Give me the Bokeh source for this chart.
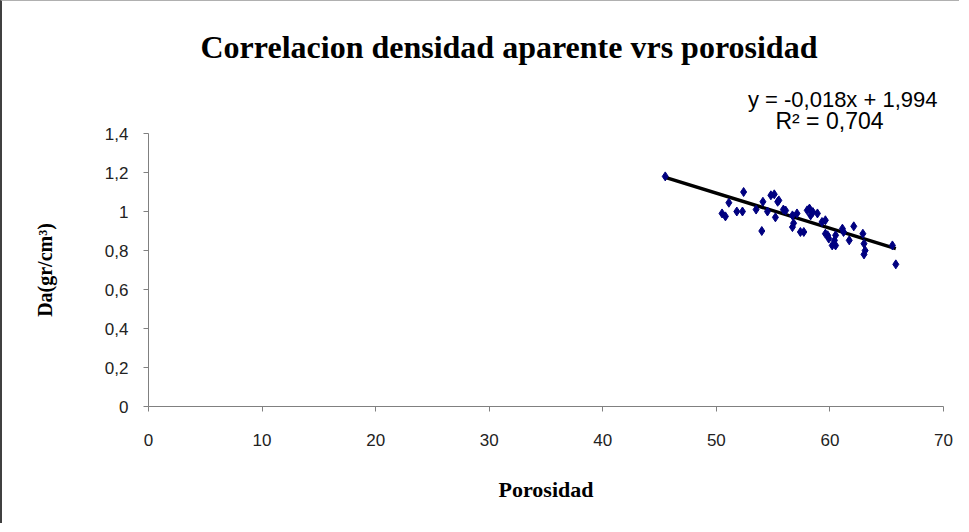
from bokeh.plotting import figure
from bokeh.models import Title, FixedTicker
from bokeh.embed import file_html
from bokeh.resources import INLINE

# ---- data ----
porosidad = [45.5, 52.4, 51.1, 50.5, 50.8, 51.8, 52.3, 54.0, 53.5, 54.1, 54.8, 55.1,
             55.4, 54.5, 55.2, 55.9, 56.1, 56.7, 57.1, 56.8, 56.7, 57.4, 57.7, 58.0,
             58.2, 58.3, 58.5, 58.9, 59.3, 59.6, 59.6, 59.8, 59.9, 60.2, 60.4, 60.5,
             60.5, 61.1, 61.2, 61.7, 62.1, 62.9, 63.0, 63.1, 63.0, 65.5, 65.8, 55.5]
densidad = [1.18, 1.10, 1.045, 0.99, 0.975, 1.00, 1.00, 0.90, 1.01, 1.05, 1.083, 1.088,
            1.05, 1.00, 0.97, 1.01, 1.005, 0.98, 0.99, 0.94, 0.92, 0.895, 0.895, 1.006,
            1.015, 0.98, 0.997, 0.99, 0.946, 0.955, 0.886, 0.878, 0.861, 0.826, 0.852, 0.878,
            0.826, 0.912, 0.895, 0.852, 0.924, 0.886, 0.835, 0.80, 0.78, 0.826, 0.729, 1.057]
slope = -0.018
intercept = 1.994
r2_text = "R² = 0,704"
eq_text = "y = -0,018x + 1,994"
title_text = "Correlacion densidad aparente vrs porosidad"
x_ticks = [0, 10, 20, 30, 40, 50, 60, 70]
y_ticks = [0, 0.2, 0.4, 0.6, 0.8, 1.0, 1.2, 1.4]
y_tick_labels = ["0", "0,2", "0,4", "0,6", "0,8", "1", "1,2", "1,4"]

W, H = 959, 523
p = figure(width=W, height=H, output_backend="svg", toolbar_location=None, title=None,
           x_range=(0, 70), y_range=(0, 1.4),
           min_border_left=146, min_border_right=18, min_border_top=131, min_border_bottom=118)
p.background_fill_color = "white"
p.border_fill_color = "white"
p.outline_line_color = None
p.grid.visible = False

# trend line
x0, x1 = min(porosidad), max(porosidad)
p.line([x0, x1], [slope * x0 + intercept, slope * x1 + intercept], line_color="black", line_width=3.5)
p.scatter(porosidad, densidad, marker="diamond", size=9, fill_color="#000080", line_color="#000080")

for ax in (p.xaxis[0], p.yaxis[0]):
    ax.axis_line_color = "#808080"
    ax.major_tick_line_color = "#808080"
    ax.minor_tick_line_color = None
    ax.major_tick_in = 0
    ax.major_tick_out = 5
    ax.major_label_text_font = "Liberation Sans"
    ax.major_label_text_font_size = "17px"
    ax.major_label_text_color = "#222222"
    ax.axis_label_text_font = "Liberation Serif"
    ax.axis_label_text_font_style = "bold"
    ax.axis_label_text_color = "black"

p.xaxis.ticker = FixedTicker(ticks=x_ticks)
p.yaxis.ticker = FixedTicker(ticks=y_ticks)
p.yaxis.major_label_overrides = {t: l for t, l in zip(y_ticks, y_tick_labels)}
p.xaxis.major_label_standoff = 22
p.yaxis.major_label_standoff = 15
p.xaxis.axis_label = "Porosidad"
p.xaxis.axis_label_text_font_size = "22px"
p.xaxis.axis_label_standoff = 28
p.yaxis.axis_label = "Da(gr/cm³)"
p.yaxis.axis_label_text_font_size = "20px"
p.yaxis.axis_label_standoff = 46

# stacked from the frame outward: R², equation, main title
p.add_layout(Title(text=r2_text, align="right", offset=60, standoff=0,
                   text_font="Liberation Sans", text_font_size="23px",
                   text_font_style="normal", text_color="black"), "above")
p.add_layout(Title(text=eq_text, align="right", offset=6, standoff=-12,
                   text_font="Liberation Sans", text_font_size="22px",
                   text_font_style="normal", text_color="black"), "above")
p.add_layout(Title(text=title_text, align="left", offset=52, standoff=51,
                   text_font="Liberation Serif", text_font_size="32px",
                   text_font_style="bold", text_color="black"), "above")

p.styles = {"border-top": "1px solid #b0b0b0", "border-left": "2px solid #404040"}

open("out.html", "w").write(file_html(p, INLINE))
